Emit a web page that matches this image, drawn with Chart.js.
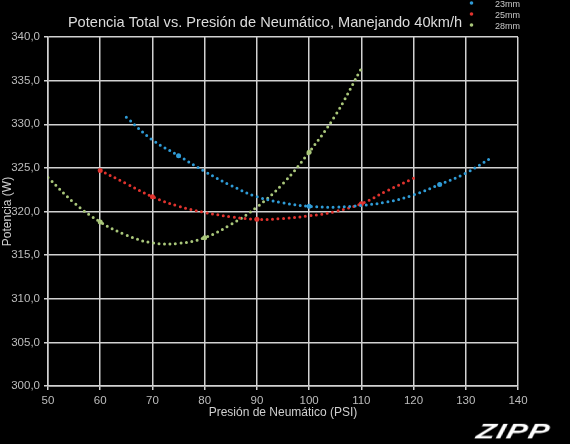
<!DOCTYPE html>
<html>
<head>
<meta charset="utf-8">
<script src="https://cdn.jsdelivr.net/npm/chart.js@4"></script>
<style>
  html, body { margin: 0; padding: 0; background: #000; }
  #wrap { position: relative; width: 570px; height: 444px; }
  #logo {
    position: absolute; left: 480px; top: 419px;
    font: italic 900 21px "Liberation Sans", Arial, sans-serif;
    color: #fff; letter-spacing: 1px;
    transform-origin: left top; transform: skewX(-14deg) scaleX(1.45);
  }
</style>
</head>
<body>
<div id="wrap">
  <canvas id="chart" width="570" height="444"></canvas>
  <div id="logo">ZIPP</div>
</div>
<script>
const chartTitle = 'Potencia Total vs. Presión de Neumático, Manejando 40km/h';
const seriesLabels = ['23mm', '25mm', '28mm'];
const seriesColors = ['#2f9bd6', '#e0332e', '#a9c67a'];

// presión (PSI) y potencia (W)
const psi23 = [65, 70, 75, 80, 85, 90, 95, 100, 105, 110, 115, 120, 125, 130, 135];
const watts23 = [330.8, 328.2, 326.4, 324.6, 323.0, 321.7, 321.0, 320.6, 320.5, 320.7, 321.1, 321.9, 323.1, 324.4, 326.2];
const marks23 = [75, 100, 125];

const psi25 = [60, 65, 70, 75, 80, 85, 90, 95, 100, 105, 110, 115, 120];
const watts25 = [324.7, 323.2, 321.7, 320.6, 319.9, 319.4, 319.1, 319.2, 319.5, 320.0, 320.9, 322.4, 323.8];
const marks25 = [60, 70, 90, 110];

const psi28 = [50, 55, 60, 65, 70, 75, 80, 85, 90, 95, 100, 105, 110];
const watts28 = [323.9, 321.0, 318.8, 317.3, 316.4, 316.35, 317.0, 318.5, 320.5, 323.2, 326.8, 331.0, 336.4];
const marks28 = [60, 80, 100];

const xTicks = [50, 60, 70, 80, 90, 100, 110, 120, 130, 140];
const yMin = 300, yMax = 340;

function makeSeries(i, xs, ys, marks) {
  return {
    label: seriesLabels[i],
    data: xs.map((x, k) => ({ x, y: ys[k] })),
    borderColor: seriesColors[i],
    backgroundColor: seriesColors[i],
    borderWidth: 3,
    borderDash: [0, 5.5],
    borderCapStyle: 'round',
    tension: 0.4,
    pointRadius: xs.map(x => marks.includes(x) ? 2.5 : 0),
    pointBorderWidth: 0,
  };
}

// título y leyenda dibujados a mano, como en el original
const overlay = {
  id: 'overlay',
  afterDraw(chart) {
    const ctx = chart.ctx;
    ctx.save();
    ctx.fillStyle = '#dcdcdc';
    ctx.font = '14.6px "Liberation Sans", Arial, sans-serif';
    ctx.textAlign = 'center';
    ctx.textBaseline = 'middle';
    ctx.fillText(chartTitle, 265, 23);

    ctx.font = '9px "Liberation Sans", Arial, sans-serif';
    ctx.textAlign = 'left';
    const ys = [4.5, 15.5, 26.5];
    seriesLabels.forEach((lab, i) => {
      ctx.fillStyle = seriesColors[i];
      ctx.beginPath();
      ctx.arc(471.5, ys[i] - 1.5, 1.8, 0, Math.PI * 2);
      ctx.fill();
      ctx.fillStyle = '#c8c8c8';
      ctx.fillText(lab, 495, ys[i]);
    });
    ctx.restore();
  }
};

const axisFont = { family: '"Liberation Sans", Arial, sans-serif', size: 11.5 };

new Chart(document.getElementById('chart'), {
  type: 'line',
  data: {
    datasets: [
      makeSeries(0, psi23, watts23, marks23),
      makeSeries(1, psi25, watts25, marks25),
      makeSeries(2, psi28, watts28, marks28),
    ],
  },
  options: {
    responsive: false,
    animation: false,
    layout: { padding: { top: 37, right: 52, left: 0, bottom: 24 } },
    plugins: {
      legend: { display: false },
      title: { display: false },
      tooltip: { enabled: false },
    },
    scales: {
      x: {
        type: 'linear',
        min: xTicks[0],
        max: xTicks[xTicks.length - 1],
        afterBuildTicks: s => { s.ticks = xTicks.map(v => ({ value: v })); },
        afterFit: s => { s.height = 34; },
        ticks: { color: '#bdbdbd', font: axisFont, padding: 4 },
        grid: { color: '#d2d2d2', lineWidth: 1.5, drawTicks: true, tickLength: 4 },
        border: { color: '#d2d2d2', width: 1.5 },
        title: {
          display: true, text: 'Presión de Neumático (PSI)',
          color: '#cfcfcf', font: { ...axisFont, size: 12 }, padding: 0,
        },
      },
      y: {
        min: yMin,
        max: yMax,
        afterFit: s => { s.width = 48; },
        ticks: {
          stepSize: 5, color: '#bdbdbd', font: axisFont, padding: 4,
          callback: v => v.toFixed(1).replace('.', ','),
        },
        grid: { color: '#d2d2d2', lineWidth: 1.5, tickLength: 4 },
        border: { color: '#d2d2d2', width: 1.5 },
        title: {
          display: true, text: 'Potencia (W)',
          color: '#cfcfcf', font: { ...axisFont, size: 12 }, padding: 0,
        },
      },
    },
  },
  plugins: [overlay],
});
</script>
</body>
</html>
